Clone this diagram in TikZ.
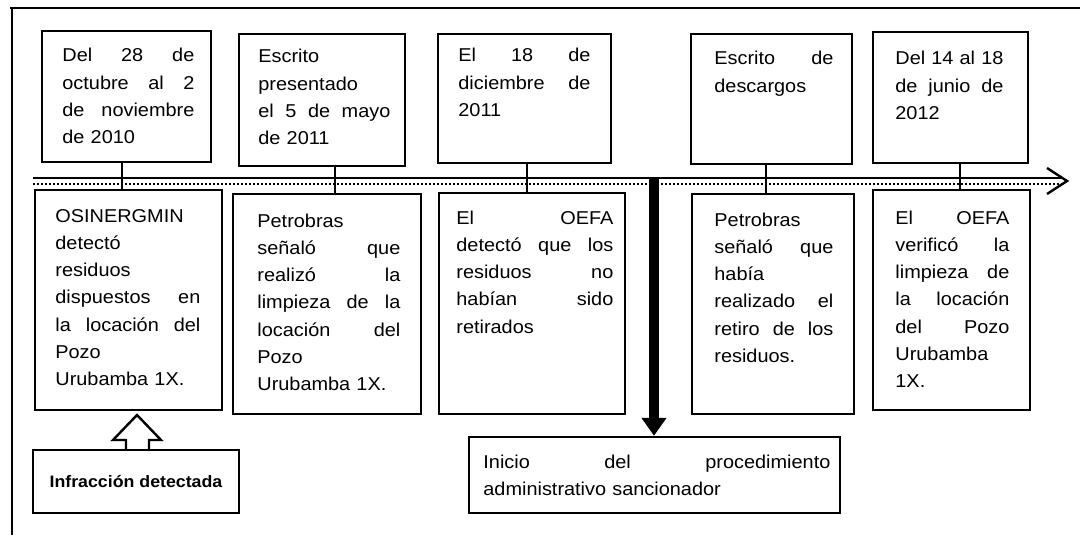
\documentclass[tikz,border=0pt]{standalone}
\usepackage{fontspec}
\setmainfont[FakeStretch=1.07]{Liberation Sans}
\usetikzlibrary{positioning,fit,arrows.meta}

\newcommand{\tlfont}{\fontsize{9.3}{13.65}\selectfont}
% justified line, \jw is the width of the text block
\newcommand{\jw}{0pt}
\newcommand{\jl}[1]{\leavevmode\hbox to \jw{\spaceskip=\fontdimen2\font plus 1fil\relax #1}}

\begin{document}
\begin{tikzpicture}[x=0.5pt,y=-0.5pt,
    box/.style={draw, line width=1.2pt, inner sep=0pt},
    txt/.style={font=\tlfont, align=left, inner sep=0pt, anchor=base west,
        text width=#1, execute at begin node={\def\jw{#1}}},
    link/.style={line width=1.2pt}]
    \useasboundingbox (0,0) rectangle (1080,535);
    % Frame
    \draw[line width=0.8pt] (10,8) -- (1080,8);
    \draw[line width=0.8pt] (12,8) -- (12,535);
    % Time line
    \draw[line width=1.4pt] (33,178) -- (1062,178);
    \draw[line width=1pt, densely dotted] (33,184) -- (1062,184);
    \draw[line width=1.2pt] (1047,168) -- (1067,181) -- (1047,194);
    % Dates
    \node[box, fit={(42,31) (211,162)}] (T1) {};
    \node[box, fit={(239,34) (405,166)}] (T2) {};
    \node[box, fit={(438,34) (611,163)}] (T3) {};
    \node[box, fit={(691,34) (852,164)}] (T4) {};
    \node[box, fit={(873,32) (1028,163)}] (T5) {};
    \node[txt=66pt] (T1t) at (62,62) {\jl{Del 28 de}\\ \jl{octubre al 2}\\ \jl{de noviembre}\\ de 2010};
    \node[txt=66pt] (T2t) at (258,63) {Escrito\\ presentado\\ \jl{el 5 de mayo}\\ de 2011};
    \node[txt=66pt] (T3t) at (458,62) {\jl{El 18 de}\\ \jl{diciembre de}\\ 2011};
    \node[txt=59.5pt] (T4t) at (714,65) {\jl{Escrito de}\\ descargos};
    \node[txt=54pt] (T5t) at (895,65) {\jl{Del 14 al 18}\\ \jl{de junio de}\\ 2012};
    % Events
    \node[box, fit={(35,190) (222,410)}] (B1) {};
    \node[box, fit={(233,194) (421,414)}] (B2) {};
    \node[box, fit={(439,193) (625,414)}] (B3) {};
    \node[box, fit={(692,194) (854,414)}] (B4) {};
    \node[box, fit={(873,190) (1030,410)}] (B5) {};
    \node[txt=72.5pt] (B1t) at (55,222) {OSINERGMIN\\ detectó\\ residuos\\ \jl{dispuestos en}\\ \jl{la locación del}\\ Pozo\\ Urubamba 1X.};
    \node[txt=71.5pt] (B2t) at (257,227) {Petrobras\\ \jl{señaló que}\\ \jl{realizó la}\\ \jl{limpieza de la}\\ \jl{locación del}\\ Pozo\\ Urubamba 1X.};
    \node[txt=78.5pt] (B3t) at (456,224) {\jl{El OEFA}\\ \jl{detectó que los}\\ \jl{residuos no}\\ \jl{habían sido}\\ retirados};
    \node[txt=59.5pt] (B4t) at (714,226) {Petrobras\\ \jl{señaló que}\\ había\\ \jl{realizado el}\\ \jl{retiro de los}\\ residuos.};
    \node[txt=57pt] (B5t) at (895,224) {\jl{El OEFA}\\ \jl{verificó la}\\ \jl{limpieza de}\\ \jl{la locación}\\ \jl{del Pozo}\\ Urubamba\\ 1X.};
    % Links date - event
    \foreach \t/\b/\x in {T1/B1/122, T2/B2/335, T3/B3/527, T4/B4/766, T5/B5/960}
        \draw[link] (\x,0 |- \t.south) -- (\x,0 |- \b.north);
    % Start of the procedure
    \node[box, fit={(469,437) (840,513)}] (Inicio) {};
    \node[txt=173.5pt] (Iniciot) at (483,468) {\jl{Inicio del procedimiento}\\ administrativo sancionador};
    \draw[line width=5pt, -{Triangle[width=12pt,length=9pt]}] (654,177) -- (654,0 |- Inicio.north);
    % Infraction
    \node[box, minimum width=103pt, minimum height=31.5pt, font=\bfseries\fontsize{8.3}{10}\selectfont] (Infr) at (136,481.5) {Infracción detectada};
    \draw[line width=1.2pt, fill=white] (126,0 |- Infr.north) -- (126,440) -- (113,440) -- (137,415) -- (161,440) -- (149,440) -- (149,0 |- Infr.north);
\end{tikzpicture}
\end{document}
